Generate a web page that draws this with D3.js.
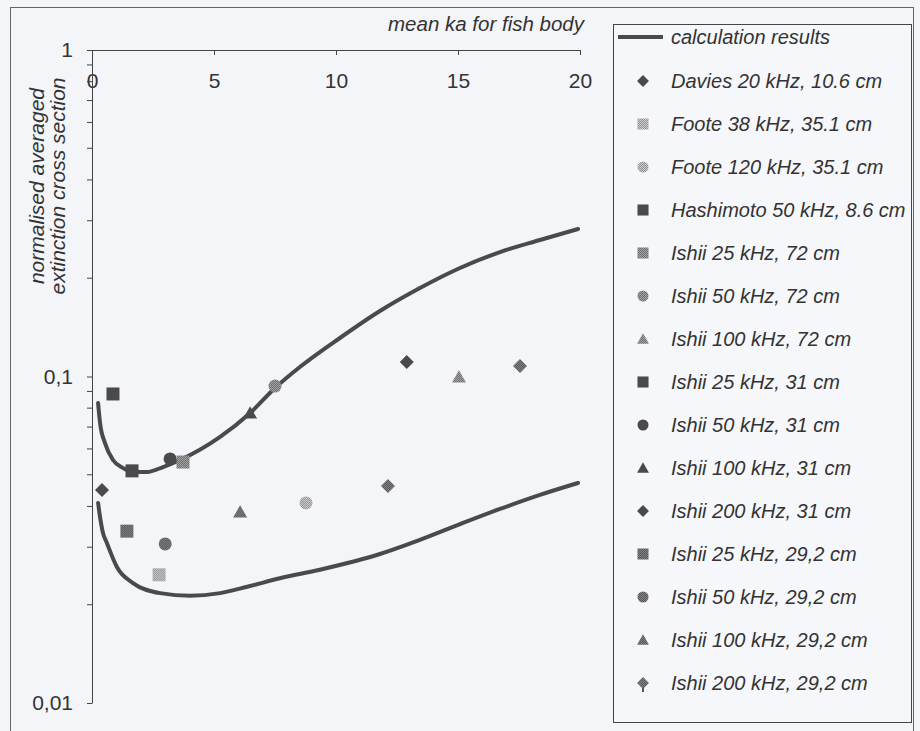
<!DOCTYPE html>
<html>
<head>
<meta charset="utf-8">
<script src="https://cdn.jsdelivr.net/npm/d3@7"></script>
<style>
  body { margin: 0; background: #f4f5f9; }
  svg { display: block; font-family: "Liberation Sans", Arial, sans-serif; }
</style>
</head>
<body>
<script>
// calculation results, upper and lower curves (ka, normalised cross section)
var upperKa = [0.25, 0.33, 0.53, 0.86, 1.27, 1.68, 2.25, 2.91, 3.61, 5.25, 6.48, 7.5,
    8.52, 10.16, 11.8, 13.44, 15.08, 16.72, 18.36, 19.92];
var upperSigma = [0.0829, 0.0721, 0.0626, 0.0555, 0.0525, 0.0510, 0.0510, 0.0528, 0.0555, 0.0653,
    0.0773, 0.0922, 0.1069, 0.1312, 0.1587, 0.1866, 0.2149, 0.2405, 0.2619, 0.2829];
var lowerKa = [0.25, 0.33, 0.45, 0.61, 1.02, 1.68, 2.79, 4.02, 5.25, 6.36, 7.7, 9.34,
    11.8, 13.44, 15.08, 16.72, 18.36, 19.92];
var lowerSigma = [0.0410, 0.0371, 0.0332, 0.0309, 0.0261, 0.0233, 0.0217, 0.0213, 0.0217, 0.0227,
    0.0241, 0.0256, 0.0286, 0.0316, 0.0353, 0.0393, 0.0434, 0.0472];

// measured points
var seriesNames = ['Davies 20 kHz, 10.6 cm', 'Foote 38 kHz, 35.1 cm', 'Foote 120 kHz, 35.1 cm',
    'Hashimoto 50 kHz, 8.6 cm', 'Ishii 25 kHz, 72 cm', 'Ishii 50 kHz, 72 cm', 'Ishii 100 kHz, 72 cm',
    'Ishii 25 kHz, 31 cm', 'Ishii 50 kHz, 31 cm', 'Ishii 100 kHz, 31 cm', 'Ishii 200 kHz, 31 cm',
    'Ishii 25 kHz, 29,2 cm', 'Ishii 50 kHz, 29,2 cm', 'Ishii 100 kHz, 29,2 cm', 'Ishii 200 kHz, 29,2 cm'];
var pointKa = [[0.41], [2.75], [8.77], [0.86], [3.73], [7.5], [15.04],
    [1.64], [3.2], [6.48], [12.9], [1.43], [3.0], [6.07], [12.13, 17.54]];
var pointSigma = [[0.0449], [0.0247], [0.0410], [0.0884], [0.0547], [0.0935], [0.0997],
    [0.0514], [0.0559], [0.0773], [0.1108], [0.0336], [0.0307], [0.0385], [0.0462, 0.1077]];

var xTicks = [0, 5, 10, 15, 20];
var yTicks = [0.01, 0.1, 1];
var yTickLabels = ['0,01', '0,1', '1'];
var xTitle = 'mean ka for fish body';
var yTitle = ['normalised averaged', 'extinction cross section'];
var curveLabel = 'calculation results';

// marker look per series
var symbols = ['diamond', 'square', 'circle', 'square', 'square', 'circle', 'triangle',
    'square', 'circle', 'triangle', 'diamond', 'square', 'circle', 'triangle', 'spade'];
var fills = ['dark', 'light', 'light', 'dark', 'med', 'med', 'med',
    'dark', 'dark', 'dark', 'dark', 'med2', 'med2', 'med2', 'med2'];

var w = 920;
var h = 731;
var font = '"Liberation Sans", Arial, sans-serif';

var svg = d3.select('body').append('svg').attr('width', w).attr('height', h);

// dithered grey fills like the scan
var defs = svg.append('defs');
function dither(id, a, b) {
  var p = defs.append('pattern').attr('id', id).attr('width', 2).attr('height', 2)
      .attr('patternUnits', 'userSpaceOnUse');
  p.append('rect').attr('width', 2).attr('height', 2).attr('fill', b);
  p.append('rect').attr('width', 1).attr('height', 1).attr('fill', a);
  p.append('rect').attr('x', 1).attr('y', 1).attr('width', 1).attr('height', 1).attr('fill', a);
}
dither('light', '#8f8f8f', '#cfcfcf');
dither('med', '#6a6a6a', '#a8a8a8');
dither('med2', '#555', '#858585');
var fillOf = function(f) { return f === 'dark' ? '#4a4a4a' : 'url(#' + f + ')'; };

// outer frame
svg.append('rect').attr('x', 10.5).attr('y', 7.5).attr('width', 903).attr('height', 740)
    .attr('fill', 'none').attr('stroke', '#666').attr('stroke-width', 1);

var x = d3.scaleLinear().domain([0, 20]).range([92, 580]);
var y = d3.scaleLog().domain([0.01, 1]).range([703, 50]);

// top axis with ticks pointing into the plot
var xAxis = svg.append('g').attr('transform', 'translate(0,50)')
    .call(d3.axisBottom(x).tickValues(xTicks).tickSize(5).tickSizeOuter(0).tickPadding(18));
xAxis.attr('font-size', 21).attr('font-family', font);
xAxis.selectAll('text').attr('fill', '#333');

var yAxis = svg.append('g').attr('transform', 'translate(92,0)')
    .call(d3.axisLeft(y).tickValues(yTicks).tickFormat(function(d, i) { return yTickLabels[i]; })
      .tickSize(5).tickSizeOuter(0).tickPadding(14));
yAxis.attr('font-size', 21).attr('font-family', font);
yAxis.selectAll('text').attr('fill', '#333');

// minor log ticks
var minor = [];
[0.01, 0.1].forEach(function(b) { for (var k = 2; k <= 9; k++) minor.push(b * k); });
svg.selectAll('line.minor').data(minor).enter().append('line').attr('class', 'minor')
    .attr('x1', 87).attr('x2', 92)
    .attr('y1', function(d) { return y(d); })
    .attr('y2', function(d) { return y(d); })
    .attr('stroke', '#444');

svg.selectAll('.domain, .tick line').attr('stroke', '#444');

// axis titles
svg.append('text').text(xTitle).attr('x', 584).attr('y', 31)
    .attr('text-anchor', 'end').attr('font-style', 'italic').attr('font-size', '20.5px').attr('fill', '#333');

svg.selectAll('text.ytitle').data(yTitle).enter().append('text').attr('class', 'ytitle')
    .text(function(d) { return d; })
    .attr('transform', function(d, i) { return 'translate(' + (44 + i * 21) + ',186) rotate(-90)'; })
    .attr('text-anchor', 'middle').attr('font-style', 'italic').attr('font-size', '21px').attr('fill', '#333');

// curves
var line = d3.line().x(function(d) { return x(d[0]); }).y(function(d) { return y(d[1]); })
    .curve(d3.curveMonotoneX);
[[upperKa, upperSigma], [lowerKa, lowerSigma]].forEach(function(c) {
  svg.append('path').datum(d3.zip(c[0], c[1])).attr('d', line)
      .attr('fill', 'none').attr('stroke', '#4a4a4a').attr('stroke-width', 4)
      .attr('stroke-linecap', 'round');
});

// markers
function sym(s, k) {
  var p = d3.path();
  if (s === 'diamond' || s === 'spade') {
    var r = 7 * k;
    p.moveTo(0, -r); p.lineTo(r, 0); p.lineTo(0, r); p.lineTo(-r, 0); p.closePath();
    return p.toString();
  }
  if (s === 'square') {
    var a = 6.5 * k;
    p.rect(-a, -a, 2 * a, 2 * a);
    return p.toString();
  }
  if (s === 'circle') {
    p.arc(0, 0, 6.5 * k, 0, 2 * Math.PI);
    return p.toString();
  }
  var t = 7 * k;
  p.moveTo(0, -t * 0.95); p.lineTo(t, t * 0.8); p.lineTo(-t, t * 0.8); p.closePath();
  return p.toString();
}

var points = [];
seriesNames.forEach(function(n, i) {
  pointKa[i].forEach(function(k, j) { points.push({ s: i, ka: k, v: pointSigma[i][j] }); });
});
svg.selectAll('path.pt').data(points).enter().append('path').attr('class', 'pt')
    .attr('d', function(d) { return sym(symbols[d.s], 1); })
    .attr('transform', function(d) { return 'translate(' + x(d.ka) + ',' + y(d.v) + ')'; })
    .attr('fill', function(d) { return fillOf(fills[d.s]); });

// legend
var lg = svg.append('g');
lg.append('rect').attr('x', 613.5).attr('y', 24.5).attr('width', 298).attr('height', 698)
    .attr('fill', '#f6f7fa').attr('stroke', '#444');
lg.append('line').attr('x1', 618).attr('x2', 663).attr('y1', 37).attr('y2', 37)
    .attr('stroke', '#4a4a4a').attr('stroke-width', 4);
lg.append('text').text(curveLabel).attr('x', 671).attr('y', 37).attr('dy', '0.35em')
    .attr('font-style', 'italic').attr('font-size', '20px').attr('fill', '#333');

var rows = lg.selectAll('g.row').data(seriesNames).enter().append('g').attr('class', 'row')
    .attr('transform', function(d, i) { return 'translate(0,' + (81 + i * 43) + ')'; });
rows.append('path')
    .attr('d', function(d, i) { return sym(symbols[i], 0.85); })
    .attr('transform', 'translate(643,0)')
    .attr('fill', function(d, i) { return fillOf(fills[i]); });
// stem under the spade-like marker
rows.filter(function(d, i) { return symbols[i] === 'spade'; }).append('rect')
    .attr('x', 642).attr('y', 5).attr('width', 2).attr('height', 4).attr('fill', '#555');
rows.append('text').text(function(d) { return d; }).attr('x', 671).attr('dy', '0.35em')
    .attr('font-style', 'italic').attr('font-size', '20px').attr('fill', '#333');
</script>
</body>
</html>
